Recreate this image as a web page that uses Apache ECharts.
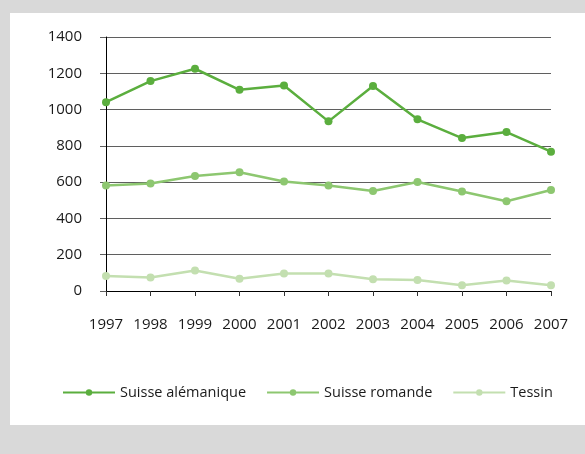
<!DOCTYPE html>
<html>
<head>
<meta charset="utf-8">
<script src="https://cdn.jsdelivr.net/npm/echarts@6/dist/echarts.min.js"></script>
<style>
  html, body { margin: 0; padding: 0; background: #d9d9d9; }
  #main { width: 585px; height: 454px; }
</style>
</head>
<body>
<div id="main"></div>
<script>
var years = ['1997', '1998', '1999', '2000', '2001', '2002', '2003', '2004', '2005', '2006', '2007'];
var alemanique = [1041, 1157, 1225, 1109, 1133, 935, 1130, 946, 843, 876, 768];
var romande = [581, 592, 634, 654, 603, 581, 551, 601, 548, 495, 557];
var tessin = [82, 74, 113, 67, 96, 96, 65, 60, 32, 58, 32];

var FONT = "'Open Sans', sans-serif";
var TXT = '#1a1a1a';

function mkSeries(name, data, color) {
    return {
        name: name,
        type: 'line',
        data: data,
        symbol: 'circle',
        symbolSize: 8,
        lineStyle: { width: 2.5, color: color },
        itemStyle: { color: color },
        emphasis: { disabled: true }
    };
}

var chart = echarts.init(document.getElementById('main'));

var option = {
    backgroundColor: '#d9d9d9',
    animation: false,
    graphic: [{
        type: 'rect',
        z: -10,
        shape: { x: 10, y: 13, width: 575, height: 412 },
        style: { fill: '#ffffff' }
    }],
    grid: {
        left: 106,
        right: 34,
        top: 37,
        bottom: 163
    },
    legend: {
        left: 62,
        top: 385,
        padding: 0,
        itemWidth: 52,
        itemHeight: 8,
        itemGap: 20,
        textStyle: { fontFamily: FONT, fontSize: 14.5, color: TXT },
        data: ['Suisse alémanique', 'Suisse romande', 'Tessin']
    },
    xAxis: {
        type: 'category',
        boundaryGap: false,
        data: years,
        axisLine: { lineStyle: { color: '#000', width: 1 } },
        axisTick: { show: true, length: 5, alignWithLabel: true, lineStyle: { color: '#333' } },
        axisLabel: { interval: 0, margin: 26, fontFamily: FONT, fontSize: 15, color: TXT }
    },
    yAxis: {
        type: 'value',
        min: 0,
        max: 1400,
        interval: 200,
        axisLine: { show: true, lineStyle: { color: '#000', width: 1 } },
        axisTick: { show: true, length: 6, lineStyle: { color: '#5f5f5f' } },
        splitLine: { show: true, lineStyle: { color: '#5f5f5f', width: 1 } },
        axisLabel: {
            margin: 24, fontFamily: FONT, fontSize: 15, color: TXT,
            formatter: function (v) { return String(v); }
        }
    },
    series: [
        mkSeries('Suisse alémanique', alemanique, '#5bae3e'),
        mkSeries('Suisse romande', romande, '#8dc770'),
        mkSeries('Tessin', tessin, '#c3dfb0')
    ]
};

chart.setOption(option);
</script>
</body>
</html>
